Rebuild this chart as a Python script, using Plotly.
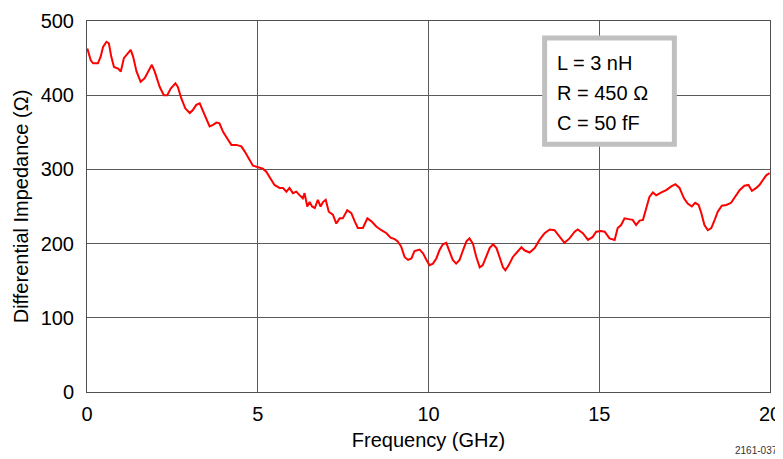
import plotly.graph_objects as go

# frequency (GHz) and differential impedance (ohm)
freq_ghz = [
    0.01, 0.11, 0.18, 0.32, 0.40, 0.47, 0.57, 0.64, 0.71, 0.79, 0.91, 0.99,
    1.08, 1.20, 1.28, 1.35, 1.45, 1.57, 1.69, 1.84, 1.90, 1.98, 2.13, 2.25,
    2.35, 2.45, 2.59, 2.66, 2.76, 2.88, 3.01, 3.10, 3.20, 3.30, 3.40, 3.50,
    3.59, 3.69, 3.79, 3.88, 3.98, 4.13, 4.23, 4.37, 4.52, 4.62, 4.76, 4.86,
    5.01, 5.15, 5.25, 5.38, 5.49, 5.64, 5.74, 5.84, 5.93, 6.03, 6.13, 6.23,
    6.32, 6.37, 6.45, 6.52, 6.59, 6.67, 6.76, 6.84, 6.91, 6.99, 7.08, 7.20,
    7.30, 7.40, 7.49, 7.62, 7.74, 7.84, 7.93, 8.08, 8.21, 8.33, 8.47, 8.62,
    8.77, 8.89, 9.01, 9.10, 9.20, 9.30, 9.40, 9.50, 9.59, 9.74, 9.84, 9.94,
    10.03, 10.13, 10.23, 10.32, 10.42, 10.52, 10.62, 10.71, 10.81, 10.91, 11.01, 11.11,
    11.20, 11.30, 11.40, 11.50, 11.59, 11.69, 11.79, 11.89, 11.99, 12.08, 12.18, 12.25,
    12.35, 12.47, 12.62, 12.72, 12.81, 12.96, 13.11, 13.25, 13.40, 13.55, 13.69, 13.84,
    13.98, 14.13, 14.28, 14.37, 14.52, 14.67, 14.81, 14.91, 15.04, 15.16, 15.30, 15.45,
    15.54, 15.64, 15.74, 15.86, 15.98, 16.08, 16.18, 16.28, 16.38, 16.47, 16.57, 16.67,
    16.82, 16.96, 17.11, 17.23, 17.35, 17.48, 17.59, 17.71, 17.81, 17.91, 17.99, 18.08,
    18.18, 18.28, 18.38, 18.47, 18.59, 18.72, 18.86, 18.98, 19.11, 19.25, 19.37, 19.47,
    19.60, 19.69, 19.79, 19.89, 19.99,
]
impedance = [
    463, 447, 443, 443, 452, 465, 472, 470, 452, 438, 436, 432,
    450, 457, 461, 452, 432, 418, 423, 436, 441, 432, 411, 400,
    400, 409, 416, 411, 396, 382, 376, 380, 387, 389, 378, 367,
    358, 360, 363, 362, 351, 340, 333, 333, 331, 324, 313, 305,
    303, 301, 297, 288, 279, 275, 275, 270, 275, 268, 270, 265,
    261, 268, 250, 256, 250, 248, 259, 250, 256, 259, 243, 239,
    227, 234, 234, 245, 241, 230, 221, 221, 234, 230, 223, 218,
    214, 208, 206, 203, 196, 182, 178, 180, 190, 192, 187, 178,
    171, 173, 180, 191, 199, 201, 189, 178, 173, 178, 191, 203,
    207, 200, 182, 168, 171, 182, 194, 199, 194, 182, 168, 164,
    171, 182, 189, 195, 191, 188, 194, 205, 214, 219, 218, 209,
    201, 207, 216, 219, 214, 205, 209, 216, 217, 216, 207, 205,
    221, 225, 234, 233, 232, 225, 231, 232, 250, 263, 269, 265,
    269, 272, 277, 280, 275, 261, 254, 250, 255, 252, 241, 225,
    218, 221, 232, 243, 251, 252, 255, 263, 272, 278, 279, 271,
    275, 279, 286, 292, 295,
]

legend_lines = ["L = 3 nH", "R = 450 \u03a9", "C = 50 fF"]
legend_y = [444, 403, 362]

FONT = "Liberation Sans, Arial, sans-serif"

fig = go.Figure()
fig.add_trace(go.Scatter(
    x=freq_ghz, y=impedance, mode="lines",
    line=dict(color="#ff0000", width=2),
    showlegend=False,
))

# parameter box
fig.add_shape(type="rect", x0=13.40, x1=17.20, y0=334, y1=477,
              line=dict(color="#c0c0c0", width=5), fillcolor="white", layer="above")
for txt, yv in zip(legend_lines, legend_y):
    fig.add_annotation(x=13.71, y=yv, text=txt, showarrow=False,
                       xanchor="left", yanchor="middle",
                       font=dict(size=20, color="black", family=FONT))

fig.add_annotation(x=1.015, y=-0.159, xref="paper", yref="paper",
                   text="2161-037", showarrow=False, xanchor="right", yanchor="middle",
                   font=dict(size=10, color="#333333", family=FONT))

axis_common = dict(
    showgrid=True, gridcolor="#5a5a5a", gridwidth=1,
    showline=True, linecolor="#505050", linewidth=1, mirror=True,
    zeroline=False, ticks="", automargin=False,
    tickfont=dict(size=20, color="black", family=FONT),
)

# page body has an 8px default margin, so the figure is trimmed by that much
fig.update_layout(
    width=775, height=451,
    margin=dict(l=79, r=13, t=13, b=67),
    paper_bgcolor="white", plot_bgcolor="white",
    xaxis=dict(range=[0, 20], tickvals=[0, 5, 10, 15, 20],
               title=dict(text="Frequency (GHz)", font=dict(size=20, color="black", family=FONT),
                          standoff=8),
               ticklabelstandoff=4, **axis_common),
    yaxis=dict(range=[0, 500], tickvals=[0, 100, 200, 300, 400, 500],
               title=dict(text="Differential Impedance (\u03a9)",
                          font=dict(size=20, color="black", family=FONT), standoff=6),
               ticklabelstandoff=8, **axis_common),
    font=dict(family=FONT),
)

fig.write_html("out.html")
